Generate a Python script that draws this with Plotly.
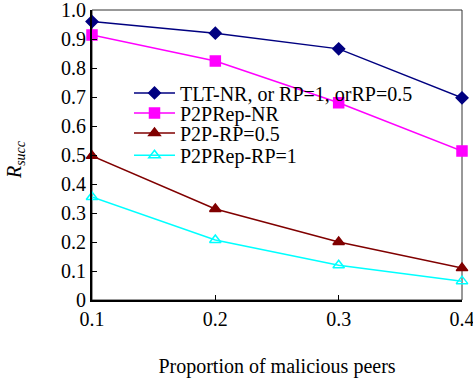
import plotly.graph_objects as go

x_vals = [0.1, 0.2, 0.3, 0.4]
tlt_nr = [0.96, 0.92, 0.866, 0.697]
p2prep_nr = [0.914, 0.824, 0.68, 0.514]
p2p_rp05 = [0.497, 0.314, 0.20, 0.11]
p2prep_rp1 = [0.355, 0.207, 0.12, 0.065]

series = [
    ("TLT-NR, or RP=1, orRP=0.5", tlt_nr, "#000080", "diamond", 9),
    ("P2PRep-NR", p2prep_nr, "#ff00ff", "square", 10),
    ("P2P-RP=0.5", p2p_rp05, "#800000", "triangle-up", 10),
    ("P2PRep-RP=1", p2prep_rp1, "#00ffff", "triangle-up-open", 10),
]

y_ticks = [0, 0.1, 0.2, 0.3, 0.4, 0.5, 0.6, 0.7, 0.8, 0.9, 1.0]
y_tick_text = ["0", "0.1", "0.2", "0.3", "0.4", "0.5", "0.6", "0.7", "0.8", "0.9", "1.0"]
x_ticks = [0.1, 0.2, 0.3, 0.4]
x_tick_text = ["0.1", "0.2", "0.3", "0.4"]

font_family = "Liberation Serif, Times New Roman, serif"
legend_rows = [0.714, 0.645, 0.576, 0.499]
legend_names = ["legend", "legend2", "legend3", "legend4"]

fig = go.Figure()
for (name, vals, color, sym, size), lg in zip(series, legend_names):
    fig.add_trace(go.Scatter(
        x=x_vals, y=vals, name=name, mode="lines+markers",
        line=dict(color=color, width=1.5),
        marker=dict(symbol=sym, size=size, color=color,
                    line=dict(color=color, width=1.5)),
        cliponaxis=False, legend=lg,
    ))

legend_common = dict(x=0.1, xanchor="left", yanchor="middle",
                     bgcolor="rgba(0,0,0,0)",
                     font=dict(family=font_family, size=20, color="black"),
                     itemwidth=41, borderwidth=0)

layout_legends = {}
for lg, yv in zip(legend_names, legend_rows):
    layout_legends[lg] = dict(legend_common, y=yv)

fig.update_layout(
    width=473, height=378,
    margin=dict(l=92, r=11, t=10, b=78, autoexpand=False),
    paper_bgcolor="white", plot_bgcolor="white",
    font=dict(family=font_family, size=20, color="black"),
    showlegend=True,
    xaxis=dict(range=[0.1, 0.4], tickvals=x_ticks, ticktext=x_tick_text,
               ticks="inside", ticklen=5, tickwidth=1, tickcolor="black",
               showline=True, linecolor="black", linewidth=2,
               showgrid=False, zeroline=False, ticklabeloverflow="allow",
               tickfont=dict(family=font_family, size=20),
               title=dict(text="Proportion of malicious peers", standoff=34,
                          font=dict(family=font_family, size=20))),
    yaxis=dict(range=[0, 1.0], tickvals=y_ticks, ticktext=y_tick_text,
               ticks="inside", ticklen=5, tickwidth=1, tickcolor="black",
               showline=True, linecolor="black", linewidth=2,
               showgrid=False, zeroline=False, ticklabeloverflow="allow",
               tickfont=dict(family=font_family, size=20)),
    shapes=[dict(type="rect", xref="paper", yref="paper", x0=0, y0=0, x1=1, y1=1,
                 line=dict(color="#333333", width=1), layer="below")],
    annotations=[dict(text="<i>R</i><sub><i>succ</i></sub>", xref="paper", yref="paper",
                      x=-0.205, y=0.483, textangle=-90, showarrow=False,
                      font=dict(family=font_family, size=20), xanchor="center", yanchor="middle")],
    **layout_legends,
)

fig.write_html(
    "out.html",
    config={"displayModeBar": False},
    post_script="document.body.style.margin='0';document.body.style.overflow='hidden';",
)
